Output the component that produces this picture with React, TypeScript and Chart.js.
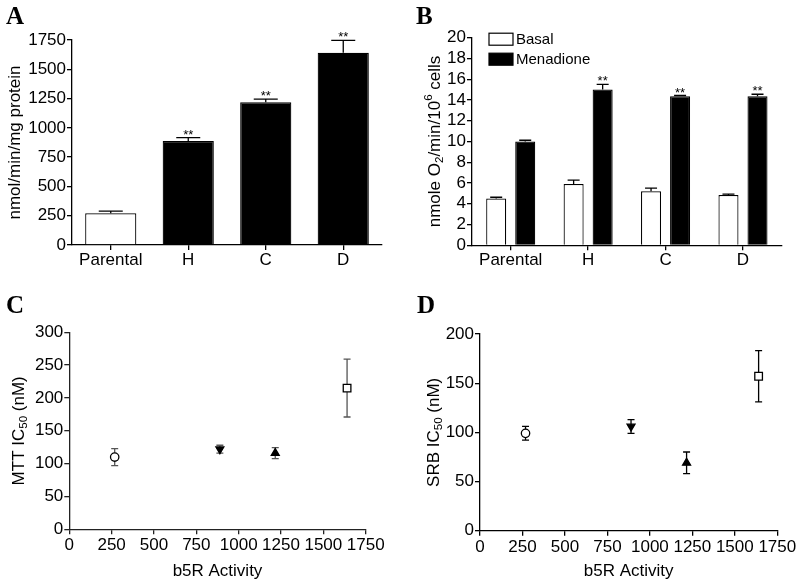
import React, { useEffect, useRef } from 'react';
import { Chart, registerables } from 'chart.js';

Chart.register(...registerables);
Chart.defaults.color = '#000';

// ---------------- DATA ----------------
// Panel A: b5R activity
const categoriesA = ['Parental', 'H', 'C', 'D'];
const activityA = [270, 888, 1218, 1641];
const activityErrA = [20, 28, 28, 106];
const significanceA = ['', '**', '**', '**'];
const ticksA = { min: 0, max: 1750, step: 250 };

// Panel B: oxygen consumption
const categoriesB = ['Parental', 'H', 'C', 'D'];
const basalB = [4.5, 5.9, 5.2, 4.85];
const basalErrB = [0.13, 0.37, 0.3, 0.08];
const menadioneB = [10.0, 15.0, 14.35, 14.35];
const menadioneErrB = [0.12, 0.5, 0.08, 0.2];
const significanceB = ['', '**', '**', '**'];
const ticksB = { min: 0, max: 20, step: 2 };

// Panels C & D: IC50 vs b5R activity
const b5rActivity = [268, 889, 1216, 1640];
const mttIC50 = [110, 122, 116, 215];
const mttErr = [13, 6, 8.5, 44];
const srbIC50 = [99, 106, 69, 157];
const srbErr = [7, 7, 11, 26];
const ticksCX = { min: 0, max: 1750, step: 250 };
const ticksCY = { min: 0, max: 300, step: 50 };
const ticksDY = { min: 0, max: 200, step: 50 };

// ---------------- STYLE ----------------
const SANS = "'Liberation Sans', Arial, Helvetica, sans-serif";
const SERIF = "'Liberation Serif', 'Times New Roman', serif";
const FS = 17;
const AXIS_W = 1.3;
const POINT_STYLES = ['circle', 'triangle', 'triangle', 'rect'];
const POINT_ROT = [0, 180, 0, 0];
const POINT_FILL = ['#fff', '#000', '#000', '#fff'];
const POINT_R = [4.2, 4.6, 4.6, 5.4];

type Seg = { t: string; s?: 'sub' | 'sup' };

function drawRich(ctx: CanvasRenderingContext2D, segs: Seg[], cx: number, cy: number, size: number, rotate: boolean) {
  ctx.save();
  ctx.translate(cx, cy);
  if (rotate) ctx.rotate(-Math.PI / 2);
  ctx.fillStyle = '#000';
  ctx.textBaseline = 'middle';
  ctx.textAlign = 'left';
  const small = size * 0.68;
  const widths = segs.map((sg) => {
    ctx.font = `${sg.s ? small : size}px ${SANS}`;
    return ctx.measureText(sg.t).width;
  });
  const total = widths.reduce((a, b) => a + b, 0);
  let x = -total / 2;
  segs.forEach((sg, i) => {
    ctx.font = `${sg.s ? small : size}px ${SANS}`;
    const off = sg.s === 'sub' ? size * 0.3 : sg.s === 'sup' ? -size * 0.35 : 0;
    ctx.fillText(sg.t, x, off);
    x += widths[i];
  });
  ctx.restore();
}

const decorPlugin = {
  id: 'decor',
  afterDraw(chart: any, _a: any, opts: any) {
    const ctx: CanvasRenderingContext2D = chart.ctx;
    const ca = chart.chartArea;
    if (opts.letter) {
      ctx.save();
      ctx.font = `bold 25px ${SERIF}`;
      ctx.fillStyle = '#000';
      ctx.textBaseline = 'alphabetic';
      ctx.fillText(opts.letter.text, opts.letter.x, opts.letter.y);
      ctx.restore();
    }
    if (opts.yTitle) {
      drawRich(ctx, opts.yTitle.segs, opts.yTitle.x, (ca.top + ca.bottom) / 2, FS, true);
    }
    if (opts.xTitle) {
      drawRich(ctx, opts.xTitle.segs, (ca.left + ca.right) / 2, opts.xTitle.y, FS, false);
    }
    if (opts.legend) {
      ctx.save();
      chart.data.datasets.forEach((ds: any, i: number) => {
        const cy = ca.top + opts.legend.dy + i * 20;
        const bx = ca.left + opts.legend.dx;
        ctx.fillStyle = ds.backgroundColor;
        ctx.strokeStyle = '#000';
        ctx.lineWidth = 1.2;
        ctx.fillRect(bx, cy - 6, 24, 12);
        ctx.strokeRect(bx, cy - 6, 24, 12);
        ctx.fillStyle = '#000';
        ctx.font = `15px ${SANS}`;
        ctx.textBaseline = 'middle';
        ctx.fillText(ds.label, bx + 27, cy + 1);
      });
      ctx.restore();
    }
  },
};

const barErrorPlugin = {
  id: 'barErrors',
  afterDatasetsDraw(chart: any, _a: any, opts: any) {
    const ctx: CanvasRenderingContext2D = chart.ctx;
    const ys = chart.scales.y;
    chart.data.datasets.forEach((ds: any, di: number) => {
      const errs: number[] | undefined = ds.errors;
      if (!errs) return;
      const meta = chart.getDatasetMeta(di);
      meta.data.forEach((el: any, i: number) => {
        const v = ds.data[i];
        const top = ys.getPixelForValue(v + errs[i]);
        const base = ys.getPixelForValue(v);
        const half = (opts.cap || 12) / 2;
        ctx.save();
        ctx.strokeStyle = '#000';
        ctx.lineWidth = 1.3;
        ctx.beginPath();
        ctx.moveTo(el.x, base);
        ctx.lineTo(el.x, top);
        ctx.moveTo(el.x - half, top);
        ctx.lineTo(el.x + half, top);
        ctx.stroke();
        const star = ds.stars ? ds.stars[i] : '';
        if (star) {
          ctx.fillStyle = '#000';
          ctx.font = `13px ${SANS}`;
          ctx.textAlign = 'center';
          ctx.textBaseline = 'alphabetic';
          ctx.fillText(star, el.x, top + 1);
        }
        ctx.restore();
      });
    });
  },
};

const pointErrorPlugin = {
  id: 'pointErrors',
  beforeDatasetsDraw(chart: any, _a: any, opts: any) {
    const ctx: CanvasRenderingContext2D = chart.ctx;
    const ys = chart.scales.y;
    chart.data.datasets.forEach((ds: any, di: number) => {
      const errs: number[] | undefined = ds.errors;
      if (!errs) return;
      const meta = chart.getDatasetMeta(di);
      meta.data.forEach((el: any, i: number) => {
        const v = ds.data[i].y;
        const t = ys.getPixelForValue(v + errs[i]);
        const b = ys.getPixelForValue(v - errs[i]);
        const half = 3.5;
        ctx.save();
        ctx.strokeStyle = opts.color || '#000';
        ctx.lineWidth = 1.3;
        ctx.beginPath();
        ctx.moveTo(el.x, t);
        ctx.lineTo(el.x, b);
        ctx.moveTo(el.x - half, t);
        ctx.lineTo(el.x + half, t);
        ctx.moveTo(el.x - half, b);
        ctx.lineTo(el.x + half, b);
        ctx.stroke();
        ctx.restore();
      });
    });
  },
};

const plainNum = (v: any) => String(v);

function axisCommon(color = '#000') {
  return {
    grid: { display: true, drawOnChartArea: false, drawTicks: true, tickLength: 5, color, lineWidth: AXIS_W },
    border: { display: true, color, width: AXIS_W },
  };
}

function yAxis(t: { min: number; max: number; step: number }, width: number, color = '#000') {
  return {
    type: 'linear',
    min: t.min,
    max: t.max,
    ...axisCommon(color),
    ticks: { stepSize: t.step, font: { family: SANS, size: FS }, color: '#000', padding: 1, autoSkip: false, callback: plainNum },
    afterFit: (s: any) => {
      s.width = width;
    },
  };
}

type Box = { left: number; top: number; w: number; h: number; area: { l: number; t: number; r: number; b: number } };

function baseOptions(box: Box) {
  return {
    responsive: false,
    animation: false,
    maintainAspectRatio: false,
    layout: { padding: { left: 0, top: box.area.t, right: box.w - box.area.r, bottom: 0 } },
  };
}

const boxA: Box = { left: 0, top: 0, w: 400, h: 290, area: { l: 72, t: 40, r: 382, b: 245 } };
const boxB: Box = { left: 400, top: 0, w: 400, h: 290, area: { l: 72, t: 37.7, r: 381.7, b: 245.3 } };
const boxC: Box = { left: 0, top: 290, w: 400, h: 296, area: { l: 69.3, t: 42.3, r: 365.7, b: 239.3 } };
const boxD: Box = { left: 400, top: 290, w: 400, h: 296, area: { l: 80, t: 44, r: 377.3, b: 240.7 } };

function catXAxis(box: Box) {
  return {
    type: 'category',
    ...axisCommon(),
    grid: { ...axisCommon().grid, offset: false },
    ticks: { font: { family: SANS, size: FS }, color: '#000', padding: 0, autoSkip: false, maxRotation: 0, minRotation: 0 },
    afterFit: (s: any) => {
      s.height = box.h - box.area.b;
    },
  };
}

function linXAxis(box: Box, color = '#000') {
  return {
    type: 'linear',
    min: ticksCX.min,
    max: ticksCX.max,
    ...axisCommon(color),
    ticks: {
      stepSize: ticksCX.step,
      font: { family: SANS, size: FS },
      color: '#000',
      padding: 1,
      autoSkip: false,
      maxRotation: 0,
      minRotation: 0,
      callback: plainNum,
    },
    afterFit: (s: any) => {
      s.height = box.h - box.area.b;
    },
  };
}

function configA(): any {
  return {
    type: 'bar',
    data: {
      labels: categoriesA,
      datasets: [
        {
          label: 'b5R',
          data: activityA,
          errors: activityErrA,
          stars: significanceA,
          backgroundColor: ['#fff', '#000', '#000', '#000'],
          borderColor: '#000',
          borderWidth: 1.2,
          barPercentage: 0.66,
          categoryPercentage: 1,
        },
      ],
    },
    options: {
      ...baseOptions(boxA),
      scales: { x: catXAxis(boxA), y: yAxis(ticksA, boxA.area.l) },
      plugins: {
        legend: { display: false },
        tooltip: { enabled: false },
        barErrors: { cap: 24 },
        decor: {
          letter: { text: 'A', x: 6, y: 24 },
          yTitle: { segs: [{ t: 'nmol/min/mg protein' }], x: 15 },
        },
      },
    },
    plugins: [barErrorPlugin, decorPlugin],
  };
}

function configB(): any {
  const common = { borderColor: '#000', borderWidth: 1.2, barPercentage: 0.69, categoryPercentage: 0.75 };
  return {
    type: 'bar',
    data: {
      labels: categoriesB,
      datasets: [
        { label: 'Basal', data: basalB, errors: basalErrB, backgroundColor: '#fff', ...common },
        { label: 'Menadione', data: menadioneB, errors: menadioneErrB, stars: significanceB, backgroundColor: '#000', ...common },
      ],
    },
    options: {
      ...baseOptions(boxB),
      scales: { x: catXAxis(boxB), y: yAxis(ticksB, boxB.area.l) },
      plugins: {
        legend: { display: false },
        tooltip: { enabled: false },
        barErrors: { cap: 12 },
        decor: {
          letter: { text: 'B', x: 16, y: 24 },
          yTitle: {
            segs: [{ t: 'nmole O' }, { t: '2', s: 'sub' }, { t: '/min/10' }, { t: '6', s: 'sup' }, { t: ' cells' }],
            x: 35,
          },
          legend: { dx: 17, dy: 1.5 },
        },
      },
    },
    plugins: [barErrorPlugin, decorPlugin],
  };
}

function scatterConfig(box: Box, values: number[], errs: number[], yt: any, letter: string, lx: number, label: string, tx: number, color: string, errColor: string): any {
  return {
    type: 'scatter',
    data: {
      datasets: [
        {
          label,
          data: b5rActivity.map((x, i) => ({ x, y: values[i] })),
          errors: errs,
          pointStyle: POINT_STYLES,
          rotation: POINT_ROT,
          pointRadius: POINT_R,
          backgroundColor: POINT_FILL,
          borderColor: '#000',
          borderWidth: 1.3,
        },
      ],
    },
    options: {
      ...baseOptions(box),
      scales: { x: linXAxis(box, color), y: yAxis(yt, box.area.l, color) },
      plugins: {
        legend: { display: false },
        tooltip: { enabled: false },
        pointErrors: { color: errColor },
        decor: {
          letter: { text: letter, x: lx, y: 23 },
          yTitle: { segs: [{ t: label + ' IC' }, { t: '50', s: 'sub' }, { t: ' (nM)' }], x: tx },
          xTitle: { segs: [{ t: 'b5R Activity' }], y: 281 },
        },
      },
    },
    plugins: [pointErrorPlugin, decorPlugin],
  };
}

function Panel({ box, make }: { box: Box; make: () => any }) {
  const ref = useRef<HTMLCanvasElement | null>(null);
  useEffect(() => {
    if (!ref.current) return;
    const chart = new Chart(ref.current, make());
    return () => chart.destroy();
  }, []);
  return (
    <div style={{ position: 'absolute', left: box.left, top: box.top, width: box.w, height: box.h }}>
      <canvas ref={ref} width={box.w} height={box.h} style={{ width: box.w, height: box.h, display: 'block' }} />
    </div>
  );
}

export default function App() {
  return (
    <div style={{ position: 'absolute', left: 0, top: 0, width: 800, height: 586, background: '#fff' }}>
      <Panel box={boxA} make={configA} />
      <Panel box={boxB} make={configB} />
      <Panel box={boxC} make={() => scatterConfig(boxC, mttIC50, mttErr, ticksCY, 'C', 6, 'MTT', 19, '#222', '#555')} />
      <Panel box={boxD} make={() => scatterConfig(boxD, srbIC50, srbErr, ticksDY, 'D', 17, 'SRB', 34, '#000', '#000')} />
    </div>
  );
}
